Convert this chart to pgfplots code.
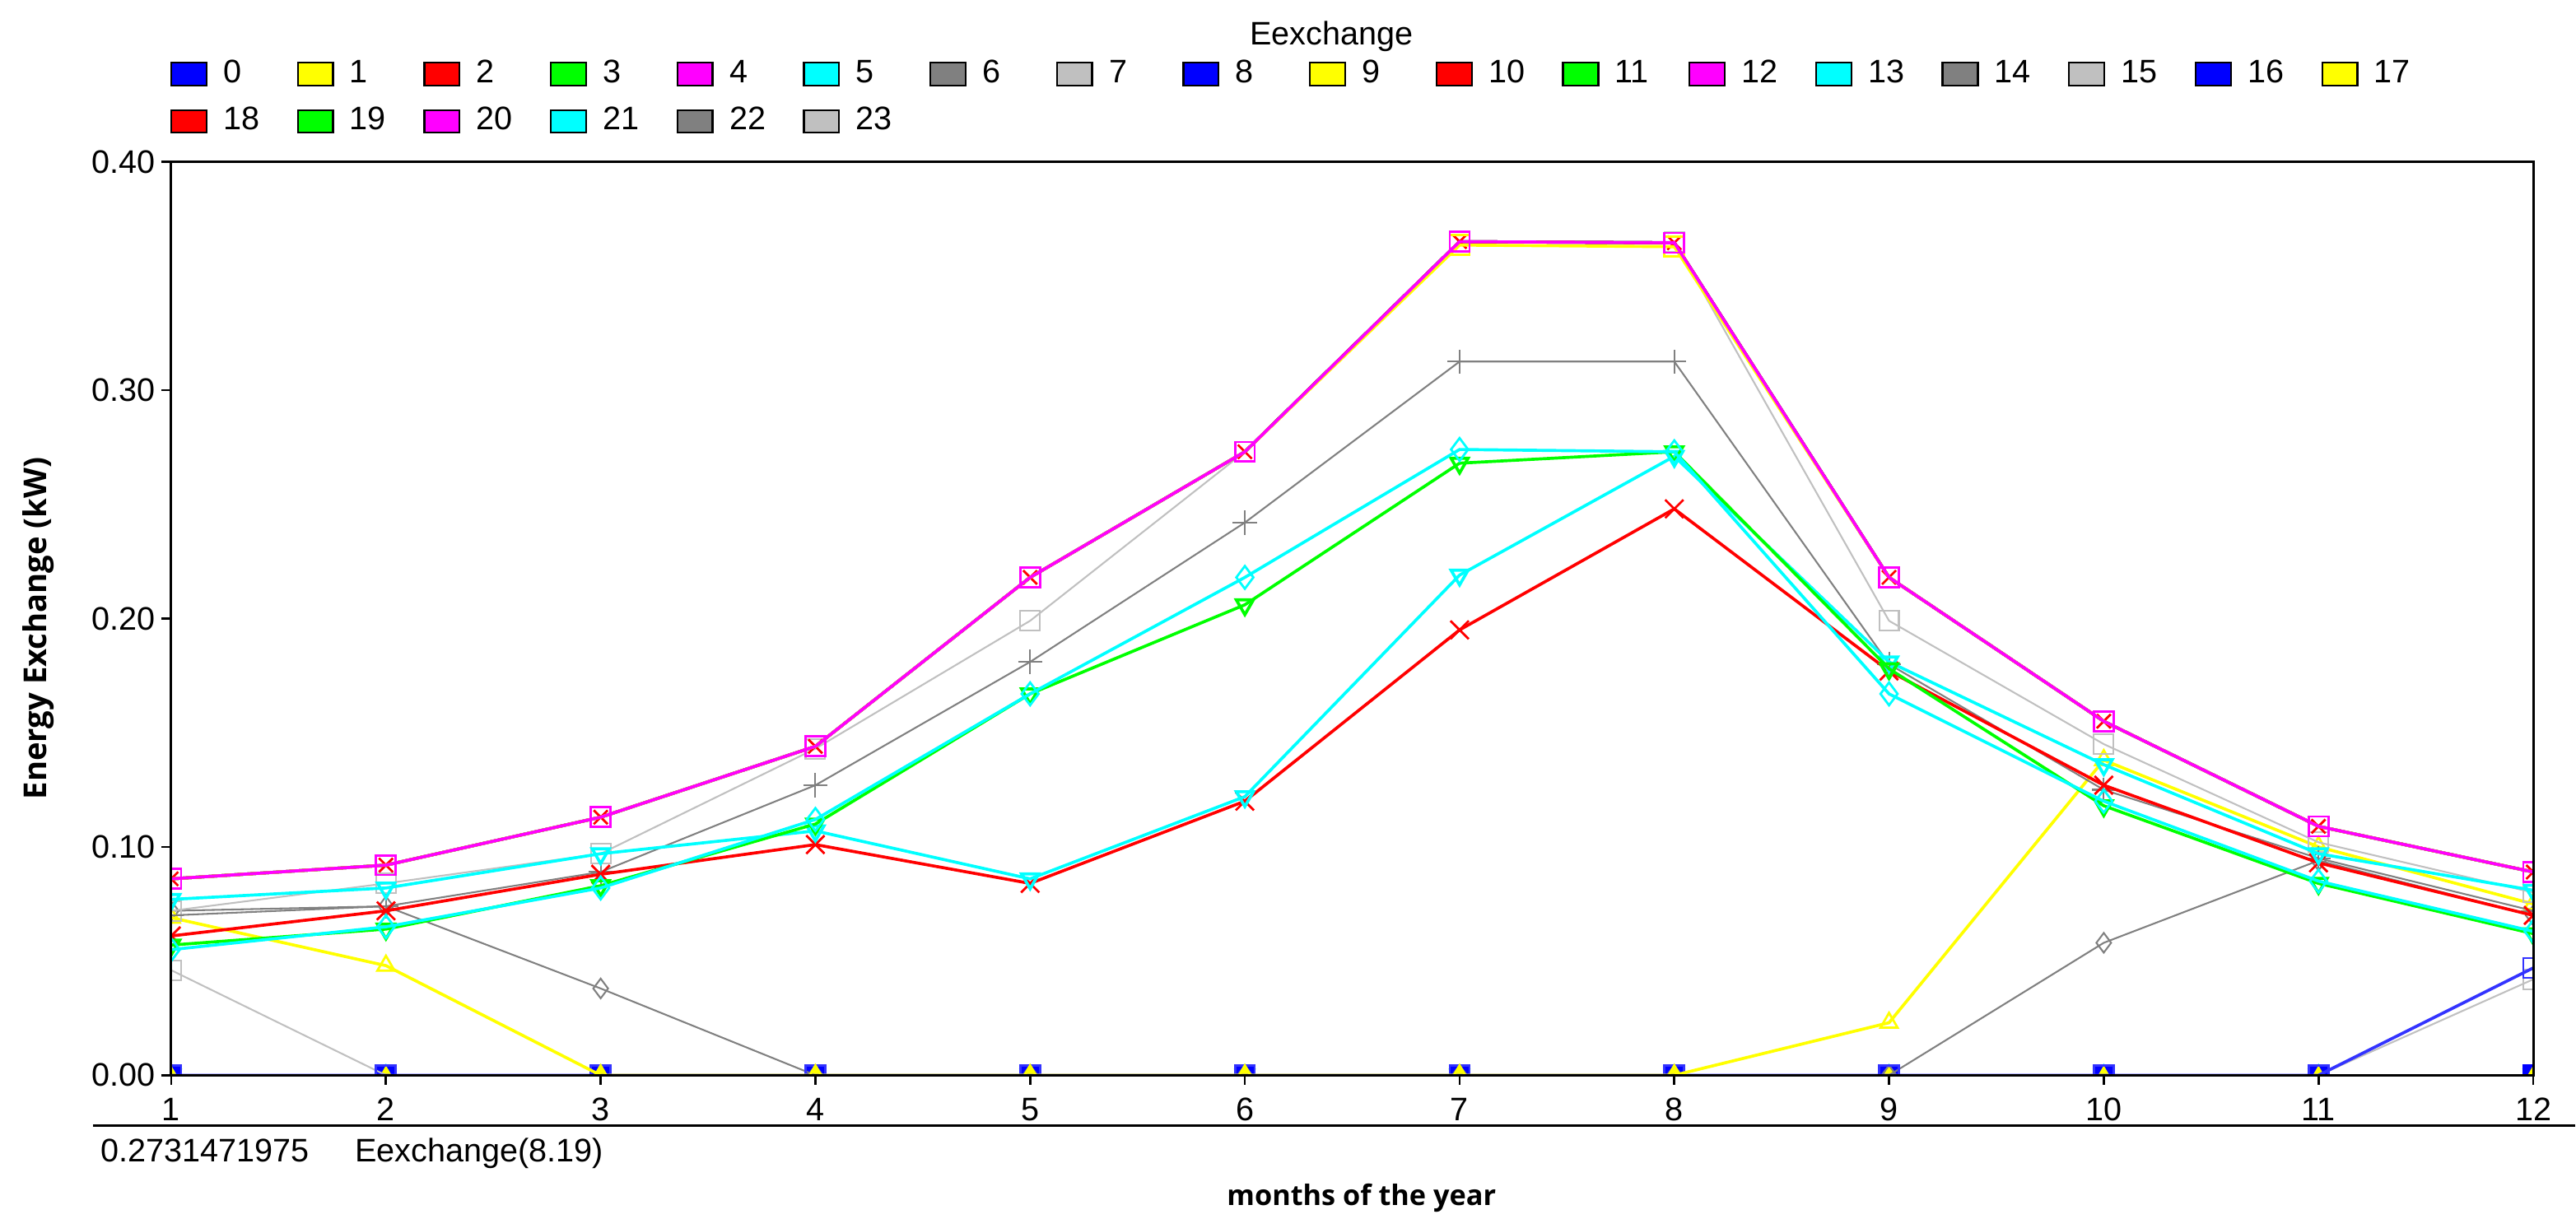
\documentclass[border=0pt]{standalone}
\usepackage{pgfplots}
\pgfplotsset{compat=1.18}
\usepackage{pgfplotstable}
\usepackage{fontspec}
\setmainfont{Liberation Sans}
\newfontfamily\labfont{Open Sans}

\definecolor{cblue}{RGB}{0,0,255}
\definecolor{cyel}{RGB}{255,255,0}
\definecolor{cred}{RGB}{255,0,0}
\definecolor{cgreen}{RGB}{0,255,0}
\definecolor{cmag}{RGB}{255,0,255}
\definecolor{ccyan}{RGB}{0,255,255}
\definecolor{cdgray}{RGB}{128,128,128}
\definecolor{clgray}{RGB}{192,192,192}

% Eexchange per hour of the day (columns), months 1..12
\pgfplotstableread{
m  zero h6    h7    h8    h9    h10   h11   h12    h13   h14    h15   h17    h21
1  0    0.072 0.046 0     0.069 0.061 0.057 0.086  0.055 0.070  0.072 0.086  0.077
2  0    0.074 0     0     0.048 0.072 0.064 0.092  0.065 0.074  0.084 0.092  0.082
3  0    0.038 0     0     0     0.088 0.083 0.113  0.082 0.089  0.097 0.113  0.097
4  0    0     0     0     0     0.101 0.110 0.144  0.112 0.127  0.143 0.144  0.107
5  0    0     0     0     0     0.084 0.167 0.218  0.167 0.181  0.199 0.218  0.086
6  0    0     0     0     0     0.120 0.206 0.273  0.218 0.242  0.273 0.273  0.122
7  0    0     0     0     0     0.195 0.268 0.365  0.274 0.3125 0.365 0.3635 0.219
8  0    0     0     0     0     0.248 0.273 0.3645 0.273 0.3125 0.365 0.3628 0.271
9  0    0     0     0     0.023 0.177 0.178 0.218  0.167 0.180  0.199 0.218  0.181
10 0    0.058 0     0     0.138 0.127 0.118 0.155  0.120 0.125  0.145 0.155  0.136
11 0    0.094 0     0     0.100 0.093 0.084 0.109  0.085 0.095  0.102 0.109  0.097
12 0    0.070 0.042 0.047 0.075 0.070 0.062 0.089  0.063 0.072  0.080 0.089  0.081
}\data

\newcommand\lgd[1]{\makebox[12pt][l]{#1}}
\newcommand\txt{\fontsize{8.6}{10}\selectfont}
\newcommand\lab{\labfont\bfseries\fontsize{7.45}{9}\selectfont}

\pgfplotsset{
  ser/.style={forget plot, line width=0.8pt, mark size=2.6pt,
    mark options={solid, line width=0.6pt}},
  thin ser/.style={ser, line width=0.45pt, mark options={solid, line width=0.45pt}},
}

\begin{document}
\begin{tikzpicture}
\begin{axis}[
  scale only axis,
  width=623.5pt, height=241.2pt,
  xmin=1, xmax=12, ymin=0, ymax=0.4,
  xtick={1,2,...,12},
  ytick={0,0.1,0.2,0.3,0.4},
  tick align=outside, tick pos=left,
  major tick length=2.5pt,
  every tick/.style={black, line width=0.6pt},
  axis line style={line width=0.65pt},
  axis on top,
  clip marker paths=true,
  /pgf/number format/assume math mode=true,
  ticklabel style={font=\txt},
  y tick label style={/pgf/number format/.cd, fixed, fixed zerofill, precision=2, /tikz/.cd, inner sep=1.5pt},
  legend columns=18,
  legend cell align=left,
  legend style={at={(0,1)}, anchor=south west, xshift=-0.25pt, yshift=6.9pt,
    draw=none, fill=none, inner sep=0pt, outer sep=0pt, font=\txt,
    row sep=5pt, nodes={inner sep=0pt},
    /tikz/every odd column/.append style={column sep=4.2pt},
    /tikz/every even column/.append style={column sep=7.4pt}},
  legend image code/.code={\draw[#1, draw=black, line width=0.5pt] (0pt,-3pt) rectangle (9.3pt,3pt);},
]
% hours with no exchange
\addplot[ser, cred, mark=x] table[x=m, y=zero] {\data};
\addplot[ser, cgreen, mark=triangle, mark options={rotate=180}] table[x=m, y=zero] {\data};
\addplot[ser, cmag, mark=square] table[x=m, y=zero] {\data};
\addplot[ser, ccyan, mark=diamond] table[x=m, y=zero] {\data};
\addplot[thin ser, cdgray, mark=+] table[x=m, y=zero] {\data};
\addplot[thin ser, clgray, mark=square] table[x=m, y=zero] {\data};
\addplot[ser, cblue, mark=square*] table[x=m, y=zero] {\data};
\addplot[ser, cyel, mark=triangle*, mark size=2pt] table[x=m, y=zero] {\data};
% morning / evening hours
\addplot[thin ser, cdgray, mark=diamond] table[x=m, y=h6] {\data};
\addplot[thin ser, clgray, mark=square] table[x=m, y=h7] {\data};
\addplot[ser, cblue!80, mark=square] table[x=m, y=h8] {\data};
\addplot[ser, cyel, mark=triangle] table[x=m, y=h9] {\data};
% day hours
\addplot[thin ser, clgray, mark=square] table[x=m, y=h15] {\data};
\addplot[thin ser, cdgray, mark=+, mark size=3.2pt] table[x=m, y=h14] {\data};
\addplot[ser, cred, mark=x, mark size=3.4pt] table[x=m, y=h10] {\data};
\addplot[ser, ccyan, mark=triangle, mark options={rotate=180}] table[x=m, y=h21] {\data};
\addplot[ser, cgreen, mark=triangle, mark options={rotate=180}] table[x=m, y=h11] {\data};
\addplot[ser, ccyan, mark=diamond, mark size=3pt] table[x=m, y=h13] {\data};
\addplot[ser, cblue, mark=square] table[x=m, y=h12] {\data};
\addplot[ser, cgreen, mark=square] table[x=m, y=h12] {\data};
\addplot[ser, cred, mark=x] table[x=m, y=h12] {\data};
\addplot[ser, cyel, mark=square] table[x=m, y=h17] {\data};
\addplot[ser, cmag, mark=square] table[x=m, y=h12] {\data};
% legend: hours 0..23
\addlegendimage{fill=cblue}\addlegendentry{\lgd{0}}
\addlegendimage{fill=cyel}\addlegendentry{\lgd{1}}
\addlegendimage{fill=cred}\addlegendentry{\lgd{2}}
\addlegendimage{fill=cgreen}\addlegendentry{\lgd{3}}
\addlegendimage{fill=cmag}\addlegendentry{\lgd{4}}
\addlegendimage{fill=ccyan}\addlegendentry{\lgd{5}}
\addlegendimage{fill=cdgray}\addlegendentry{\lgd{6}}
\addlegendimage{fill=clgray}\addlegendentry{\lgd{7}}
\addlegendimage{fill=cblue}\addlegendentry{\lgd{8}}
\addlegendimage{fill=cyel}\addlegendentry{\lgd{9}}
\addlegendimage{fill=cred}\addlegendentry{\lgd{10}}
\addlegendimage{fill=cgreen}\addlegendentry{\lgd{11}}
\addlegendimage{fill=cmag}\addlegendentry{\lgd{12}}
\addlegendimage{fill=ccyan}\addlegendentry{\lgd{13}}
\addlegendimage{fill=cdgray}\addlegendentry{\lgd{14}}
\addlegendimage{fill=clgray}\addlegendentry{\lgd{15}}
\addlegendimage{fill=cblue}\addlegendentry{\lgd{16}}
\addlegendimage{fill=cyel}\addlegendentry{\lgd{17}}
\addlegendimage{fill=cred}\addlegendentry{\lgd{18}}
\addlegendimage{fill=cgreen}\addlegendentry{\lgd{19}}
\addlegendimage{fill=cmag}\addlegendentry{\lgd{20}}
\addlegendimage{fill=ccyan}\addlegendentry{\lgd{21}}
\addlegendimage{fill=cdgray}\addlegendentry{\lgd{22}}
\addlegendimage{fill=clgray}\addlegendentry{\lgd{23}}
\end{axis}
% titles and the status line below the axis
\node[font=\txt, anchor=base] at (306.3pt,272pt) {Eexchange};
\node[font=\labfont\bfseries\fontsize{8.3}{10}\selectfont, rotate=90] at (-35pt,118pt) {Energy Exchange (kW)};
\node[font=\lab, anchor=base] at (314.2pt,-34.4pt) {months of the year};
\draw[line width=0.7pt] (-20.6pt,-13.3pt) -- (634.5pt,-13.3pt);
\node[font=\txt, anchor=base west, inner sep=0pt] at (-18.7pt,-22.9pt) {0.2731471975};
\node[font=\txt, anchor=base west, inner sep=0pt] at (48.3pt,-22.9pt) {Eexchange(8.19)};
\pgfresetboundingbox
\path (-45.2pt,-37.9pt) rectangle (634.8pt,283.9pt);
\end{tikzpicture}
\end{document}
